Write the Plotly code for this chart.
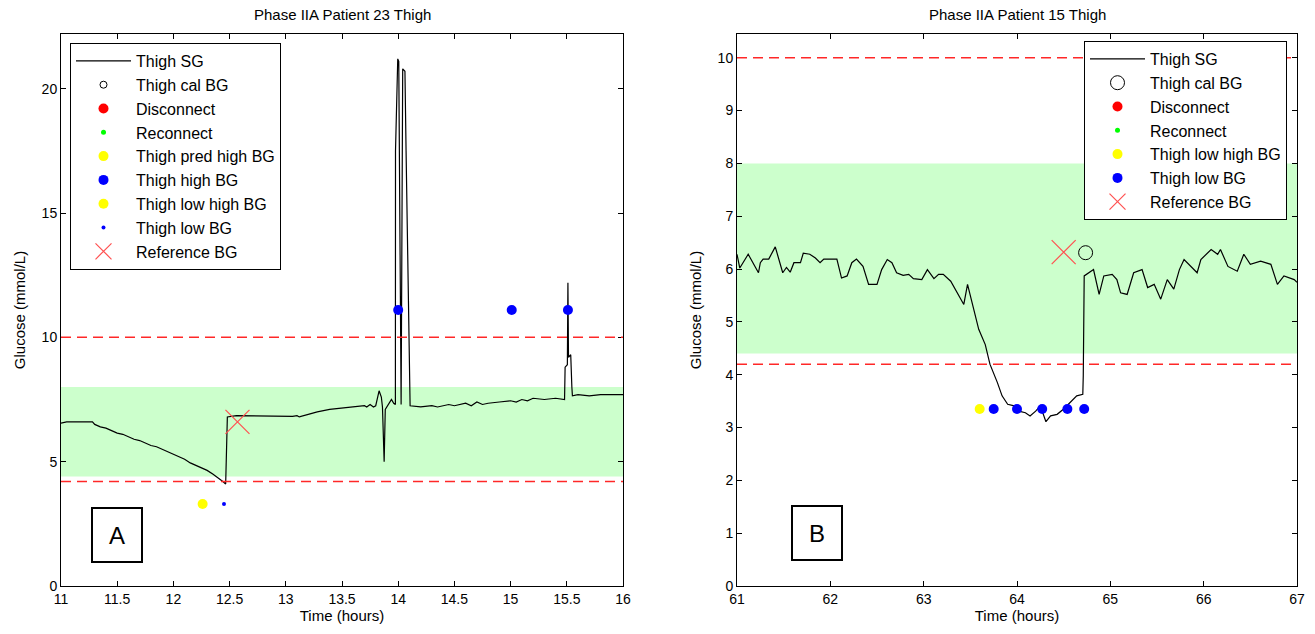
import plotly.graph_objects as go

# ---------------- Data: Panel A (Patient 23) ----------------
a_sg_t = [11.00, 11.05, 11.28, 11.30, 11.35, 11.40, 11.45, 11.50, 11.55, 11.60, 11.65, 11.70,
          11.75, 11.80, 11.85, 11.90, 11.95, 12.00, 12.05, 12.10, 12.15, 12.20, 12.25, 12.30,
          12.35, 12.40, 12.44, 12.465, 12.47, 12.48, 12.56, 13.06, 13.10, 13.12, 13.20, 13.28,
          13.39, 13.50, 13.60, 13.70, 13.72, 13.75, 13.78, 13.80, 13.83, 13.85, 13.86, 13.875,
          13.885, 13.91, 13.94, 13.96, 13.975, 13.976, 13.996, 14.005, 14.011, 14.02, 14.026,
          14.04, 14.06, 14.07, 14.084, 14.10, 14.106, 14.20, 14.30, 14.35, 14.45, 14.50, 14.60,
          14.65, 14.70, 14.75, 14.80, 14.90, 15.00, 15.05, 15.10, 15.15, 15.20, 15.30, 15.40,
          15.48, 15.485, 15.505, 15.51, 15.515, 15.535, 15.545, 15.55, 15.60, 15.70, 15.80, 16.00]
a_sg_v = [6.55, 6.60, 6.60, 6.50, 6.40, 6.35, 6.25, 6.15, 6.10, 6.00, 5.90, 5.85,
          5.75, 5.65, 5.60, 5.50, 5.40, 5.30, 5.20, 5.10, 4.95, 4.85, 4.75, 4.65,
          4.50, 4.35, 4.20, 4.10, 5.50, 6.80, 6.85, 6.82, 6.85, 6.80, 6.90, 7.00,
          7.10, 7.15, 7.20, 7.25, 7.20, 7.30, 7.20, 7.25, 7.85, 7.60, 7.20, 5.00,
          7.10, 7.30, 7.50, 7.35, 7.30, 17.5, 21.2, 21.1, 17.5, 10.6, 7.30,
          20.8, 20.7, 17.5, 12.9, 8.50, 7.25, 7.20, 7.25, 7.20, 7.30, 7.25, 7.35,
          7.25, 7.40, 7.30, 7.35, 7.40, 7.45, 7.40, 7.50, 7.45, 7.55, 7.50, 7.55,
          7.50, 8.80, 8.90, 12.2, 9.20, 9.30, 8.00, 7.65, 7.70, 7.65, 7.70, 7.70]
a_high_t = [14.00, 15.01, 15.51]
a_high_v = [11.1, 11.1, 11.1]
a_lowhigh_t = [12.26]
a_lowhigh_v = [3.3]
a_low_t = [12.45]
a_low_v = [3.3]
a_ref_t = [12.57]
a_ref_v = [6.6]

# ---------------- Data: Panel B (Patient 15) ----------------
b_sg_t = [61.00, 61.03, 61.12, 61.16, 61.23, 61.25, 61.28, 61.34, 61.41, 61.49, 61.53, 61.57,
          61.61, 61.68, 61.71, 61.78, 61.84, 61.89, 61.93, 62.07, 62.12, 62.18, 62.23, 62.28,
          62.35, 62.41, 62.50, 62.55, 62.61, 62.66, 62.71, 62.78, 62.84, 62.89, 62.98, 63.04,
          63.11, 63.16, 63.21, 63.29, 63.36, 63.43, 63.47, 63.53, 63.59, 63.66, 63.71, 63.79,
          63.84, 63.90, 63.97, 64.02, 64.09, 64.14, 64.20, 64.25, 64.31, 64.36, 64.43, 64.50,
          64.57, 64.64, 64.705, 64.71, 64.72, 64.77, 64.82, 64.88, 64.93, 65.02, 65.07, 65.11,
          65.18, 65.25, 65.34, 65.40, 65.47, 65.54, 65.61, 65.68, 65.74, 65.79, 65.86, 65.93,
          65.97, 66.08, 66.15, 66.18, 66.26, 66.36, 66.43, 66.50, 66.61, 66.72, 66.79, 66.86,
          66.97, 67.00]
b_sg_v = [6.28, 6.02, 6.28, 6.15, 5.93, 6.12, 6.19, 6.19, 6.42, 5.93, 6.03, 5.94,
          6.12, 6.12, 6.30, 6.28, 6.21, 6.12, 6.19, 6.19, 5.83, 5.87, 6.12, 6.19,
          6.05, 5.71, 5.71, 5.99, 6.18, 6.12, 5.93, 5.88, 5.90, 5.82, 5.80, 5.99,
          5.82, 5.90, 5.90, 5.77, 5.55, 5.33, 5.71, 5.30, 4.86, 4.57, 4.20, 3.85,
          3.60, 3.44, 3.41, 3.31, 3.28, 3.22, 3.31, 3.41, 3.11, 3.22, 3.25, 3.35,
          3.47, 3.60, 3.63, 3.98, 5.87, 5.93, 5.99, 5.52, 5.87, 5.90, 5.80, 5.55,
          5.52, 5.93, 5.99, 5.65, 5.71, 5.43, 5.80, 5.62, 5.99, 6.18, 6.05, 5.93,
          6.18, 6.37, 6.28, 6.37, 6.05, 5.96, 6.28, 6.09, 6.15, 6.09, 5.71, 5.87,
          5.80, 5.75]
b_cal_t = [64.735]
b_cal_v = [6.31]
b_lowhigh_t = [63.60]
b_lowhigh_v = [3.35]
b_low_t = [63.75, 64.00, 64.27, 64.54, 64.72]
b_low_v = [3.35, 3.35, 3.35, 3.35, 3.35]
b_ref_t = [64.50]
b_ref_v = [6.32]

# thresholds / target band
band_lo, band_hi = 4.4, 8.0
lim_lo, lim_hi = 4.2, 10.0

a_xticks = [11, 11.5, 12, 12.5, 13, 13.5, 14, 14.5, 15, 15.5, 16]
a_yticks = [0, 5, 10, 15, 20]
b_xticks = [61, 62, 63, 64, 65, 66, 67]
b_yticks = list(range(0, 11))

RED_X = "rgb(255,80,80)"
FONT = "Liberation Sans, Arial, sans-serif"

fig = go.Figure()

def add(x, y, name, xa, ya, leg, mode="markers", **kw):
    fig.add_trace(go.Scatter(x=x, y=y, name=name, mode=mode, xaxis=xa, yaxis=ya,
                             legend=leg, legendgroup=leg + name, showlegend=True, **kw))

# Panel A traces
add(a_sg_t, a_sg_v, "Thigh SG", "x", "y", "legend", mode="lines", line=dict(color="black", width=1.2))
add([None], [None], "Thigh cal BG", "x", "y", "legend",
    marker=dict(symbol="circle-open", size=7, color="black", line=dict(width=1)))
add([None], [None], "Disconnect", "x", "y", "legend", marker=dict(size=10, color="rgb(255,0,0)"))
add([None], [None], "Reconnect", "x", "y", "legend", marker=dict(size=5, color="rgb(0,255,0)"))
add([None], [None], "Thigh pred high BG", "x", "y", "legend", marker=dict(size=10, color="rgb(255,255,0)"))
add(a_high_t, a_high_v, "Thigh high BG", "x", "y", "legend", marker=dict(size=10, color="rgb(0,0,255)"))
add(a_lowhigh_t, a_lowhigh_v, "Thigh low high BG", "x", "y", "legend", marker=dict(size=10, color="rgb(255,255,0)"))
add(a_low_t, a_low_v, "Thigh low BG", "x", "y", "legend", marker=dict(size=4, color="rgb(0,0,255)"))
add(a_ref_t, a_ref_v, "Reference BG", "x", "y", "legend",
    marker=dict(symbol="x-thin", size=24, color=RED_X, line=dict(color=RED_X, width=1.2)))

# Panel B traces
add(b_sg_t, b_sg_v, "Thigh SG", "x2", "y2", "legend2", mode="lines", line=dict(color="black", width=1.2))
add(b_cal_t, b_cal_v, "Thigh cal BG", "x2", "y2", "legend2",
    marker=dict(symbol="circle-open", size=14, color="black", line=dict(width=1)))
add([None], [None], "Disconnect", "x2", "y2", "legend2", marker=dict(size=10, color="rgb(255,0,0)"))
add([None], [None], "Reconnect", "x2", "y2", "legend2", marker=dict(size=5, color="rgb(0,255,0)"))
add(b_lowhigh_t, b_lowhigh_v, "Thigh low high BG", "x2", "y2", "legend2", marker=dict(size=10, color="rgb(255,255,0)"))
add(b_low_t, b_low_v, "Thigh low BG", "x2", "y2", "legend2", marker=dict(size=10, color="rgb(0,0,255)"))
add(b_ref_t, b_ref_v, "Reference BG", "x2", "y2", "legend2",
    marker=dict(symbol="x-thin", size=24, color=RED_X, line=dict(color=RED_X, width=1.2)))

# band and dashed limits
for xr, yr in (("x", "y"), ("x2", "y2")):
    fig.add_shape(type="rect", xref=xr + " domain", yref=yr, x0=0, x1=1, y0=band_lo, y1=band_hi,
                  fillcolor="#ccffcc", line=dict(width=0), layer="below")
    for v in (lim_lo, lim_hi):
        fig.add_shape(type="line", xref=xr + " domain", yref=yr, x0=0, x1=1, y0=v, y1=v,
                      line=dict(color="rgb(255,40,40)", width=1.5, dash="10px,6px"), layer="above")

W, H = 1315, 634
ydom = [1 - 586 / H, 1 - 34 / H]

axis_common = dict(showgrid=False, zeroline=False, showline=True, linecolor="black", linewidth=1,
                   mirror="ticks", ticks="inside", ticklen=5, tickcolor="black",
                   tickfont=dict(family=FONT, size=14, color="black"), automargin=False)

title_font = dict(family=FONT, size=15, color="black")
legend_common = dict(xanchor="left", yanchor="top", bgcolor="white", bordercolor="black",
                     borderwidth=1, font=dict(family=FONT, size=16, color="black"),
                     tracegroupgap=0, itemwidth=55, itemsizing="trace")

fig.update_layout(
    width=W, height=H, margin=dict(l=0, r=0, t=0, b=0),
    paper_bgcolor="white", plot_bgcolor="white",
    font=dict(family=FONT, color="black"),
    xaxis=dict(domain=[61 / W, 623 / W], range=[11, 16], tickvals=a_xticks,
               ticktext=[f"{v:g}" for v in a_xticks], anchor="y",
               title=dict(text="Time (hours)", font=title_font, standoff=3), **axis_common),
    yaxis=dict(domain=ydom, range=[0, 22.2], tickvals=a_yticks, anchor="x",
               title=dict(text="Glucose (mmol/L)", font=title_font, standoff=12), **axis_common),
    xaxis2=dict(domain=[737 / W, 1297 / W], range=[61, 67], tickvals=b_xticks, anchor="y2",
                title=dict(text="Time (hours)", font=title_font, standoff=3), **axis_common),
    yaxis2=dict(domain=ydom, range=[0, 10.45], tickvals=b_yticks, anchor="x2",
                title=dict(text="Glucose (mmol/L)", font=title_font, standoff=12), **axis_common),
    legend=dict(x=70 / W, y=1 - 43 / H, **legend_common),
    legend2=dict(x=1084 / W, y=1 - 41 / H, **legend_common),
    showlegend=True,
)

fig.add_annotation(text="Phase IIA Patient 23 Thigh", xref="paper", yref="paper",
                   x=342 / W, y=1 - 15 / H, xanchor="center", yanchor="middle",
                   showarrow=False, font=title_font)
fig.add_annotation(text="Phase IIA Patient 15 Thigh", xref="paper", yref="paper",
                   x=1017 / W, y=1 - 15 / H, xanchor="center", yanchor="middle",
                   showarrow=False, font=title_font)
fig.add_annotation(text="A", xref="paper", yref="paper", x=117 / W, y=1 - 535 / H,
                   xanchor="center", yanchor="middle",
                   showarrow=False, font=dict(size=24), width=48, height=52,
                   bordercolor="black", borderwidth=2, borderpad=0, bgcolor="white")
fig.add_annotation(text="B", xref="paper", yref="paper", x=817 / W, y=1 - 533 / H,
                   xanchor="center", yanchor="middle",
                   showarrow=False, font=dict(size=24), width=48, height=52,
                   bordercolor="black", borderwidth=2, borderpad=0, bgcolor="white")

fig.write_html("out.html")
